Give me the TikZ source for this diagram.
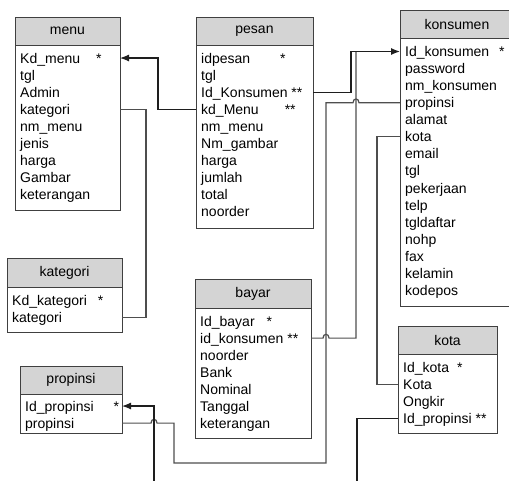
\documentclass[tikz,border=0pt]{standalone}
\usepackage{fontspec}
\setmainfont{Liberation Sans}
\usepackage{xcolor}
\definecolor{boxline}{RGB}{64,64,64}
\definecolor{headgray}{RGB}{212,212,212}
\definecolor{linkgray}{RGB}{78,78,78}
\definecolor{arrowblack}{RGB}{30,30,30}
\usepackage{tikz}
\usetikzlibrary{arrows.meta, positioning, calc}
\tikzstyle{tblhead}=[rectangle, draw=boxline, fill=headgray, line width=1pt,
  inner sep=0pt, outer sep=0pt, minimum height=28pt, font=\fontsize{14}{16}\selectfont]
\tikzstyle{tblbody}=[rectangle, draw=boxline, fill=white, line width=1pt,
  inner sep=0pt, outer sep=0pt]
\tikzstyle{field}=[anchor=west, inner sep=0pt, text height=11pt, text depth=1pt,
  font=\fontsize{14}{16}\selectfont]
\tikzstyle{link}=[line width=1.2pt, color=linkgray]
\tikzstyle{linkarrow}=[-{Latex[length=9pt, width=7pt]}, line width=1.2pt, color=arrowblack]

\begin{document}
\begin{tikzpicture}[x=1pt, y=-1pt]
  \useasboundingbox (0,0) rectangle (509,480);
  \clip (0,0) rectangle (509,480);

  % tables
  \node[tblhead, minimum width=105pt] (menu) at (67.5,31) {menu};
  \node[tblbody, minimum width=105pt, minimum height=165pt, below=0pt of menu] (menu-b) {};
  \foreach \f [count=\i] in {Kd\_menu\hspace{16pt}*, tgl, Admin, kategori, nm\_menu,
      jenis, harga, Gambar, keterangan}
    \node[field] (menu-\i) at ($(menu-b.north west)+(5,{13+17.1*(\i-1)})$) {\f};

  \node[tblhead, minimum width=117pt] (pesan) at (254.5,31) {pesan};
  \node[tblbody, minimum width=117pt, minimum height=183pt, below=0pt of pesan] (pesan-b) {};
  \foreach \f [count=\i] in {idpesan\hspace{30pt}*, tgl, Id\_Konsumen **,
      kd\_Menu\hspace{26pt}**, nm\_menu, Nm\_gambar, harga, jumlah, total, noorder}
    \node[field] (pesan-\i) at ($(pesan-b.north west)+(5,{13+17.1*(\i-1)})$) {\f};

  \node[tblhead, minimum width=114pt] (konsumen) at (457,24) {konsumen};
  \node[tblbody, minimum width=114pt, minimum height=268pt, below=0pt of konsumen] (konsumen-b) {};
  \foreach \f [count=\i] in {Id\_konsumen\hspace{10pt}*, password, nm\_konsumen, propinsi,
      alamat, kota, email, tgl, pekerjaan, telp, tgldaftar, nohp, fax, kelamin, kodepos}
    \node[field] (konsumen-\i) at ($(konsumen-b.north west)+(5,{13.5+17.07*(\i-1)})$) {\f};

  \node[tblhead, minimum width=115pt, minimum height=29pt] (kategori) at (64.5,272.5) {kategori};
  \node[tblbody, minimum width=115pt, minimum height=45pt, below=0pt of kategori] (kategori-b) {};
  \foreach \f [count=\i] in {Kd\_kategori\hspace{11pt}*, kategori}
    \node[field] (kategori-\i) at ($(kategori-b.north west)+(5,{13+17.1*(\i-1)})$) {\f};

  \node[tblhead, minimum width=102pt] (propinsi) at (71,380) {propinsi};
  \node[tblbody, minimum width=102pt, minimum height=39pt, below=0pt of propinsi] (propinsi-b) {};
  \foreach \f [count=\i] in {Id\_propinsi\hspace{20pt}*, propinsi}
    \node[field] (propinsi-\i) at ($(propinsi-b.north west)+(5,{12+17.1*(\i-1)})$) {\f};

  \node[tblhead, minimum width=116pt, minimum height=29pt] (bayar) at (253,293.5) {bayar};
  \node[tblbody, minimum width=116pt, minimum height=130pt, below=0pt of bayar] (bayar-b) {};
  \foreach \f [count=\i] in {Id\_bayar\hspace{12pt}*, id\_konsumen **, noorder, Bank,
      Nominal, Tanggal, keterangan}
    \node[field] (bayar-\i) at ($(bayar-b.north west)+(5,{13+17.1*(\i-1)})$) {\f};

  \node[tblhead, minimum width=99pt] (kota) at (447.5,340) {kota};
  \node[tblbody, minimum width=99pt, minimum height=79pt, below=0pt of kota] (kota-b) {};
  \foreach \f [count=\i] in {Id\_kota\hspace{8pt}*, Kota, Ongkir, Id\_propinsi **}
    \node[field] (kota-\i) at ($(kota-b.north west)+(5,{13+17.1*(\i-1)})$) {\f};

  % relations
  \draw[linkarrow] (pesan-4 -| pesan-b.west) -- ++(-38,0) |- (menu-1 -| menu-b.east);
  \draw[link] (menu-4 -| menu-b.east) -- ++(26,0) |- (kategori-2 -| kategori-b.east);
  \draw[link] (bayar-2 -| bayar-b.east) -- (323,0 |- bayar-2)
    .. controls +(0,-5) and +(0,-5) .. (329,0 |- bayar-2)
    -- (356,0 |- bayar-2) -- (356,0 |- konsumen-1);
  \draw[linkarrow] (pesan-3 -| pesan-b.east) -- ++(38,0) |- (konsumen-1 -| konsumen-b.west);
  \draw[link] (konsumen-4 -| konsumen-b.west) -- (359,0 |- konsumen-4)
    .. controls +(0,-5) and +(0,-5) .. (353,0 |- konsumen-4)
    -- (326,0 |- konsumen-4) -- (326,463) -- (174,463) -- (174,0 |- propinsi-2)
    -- (157,0 |- propinsi-2) .. controls +(0,-5) and +(0,-5) .. (151,0 |- propinsi-2)
    -- (propinsi-2 -| propinsi-b.east);
  \draw[link] (konsumen-6 -| konsumen-b.west) -- ++(-23,0) |- (kota-2 -| kota-b.west);
  \draw[linkarrow] (kota-4 -| kota-b.west) -- ++(-41,0) -- ++(0,80)
    -| (154,0 |- propinsi-1) -- (propinsi-1 -| propinsi-b.east);
\end{tikzpicture}
\end{document}
